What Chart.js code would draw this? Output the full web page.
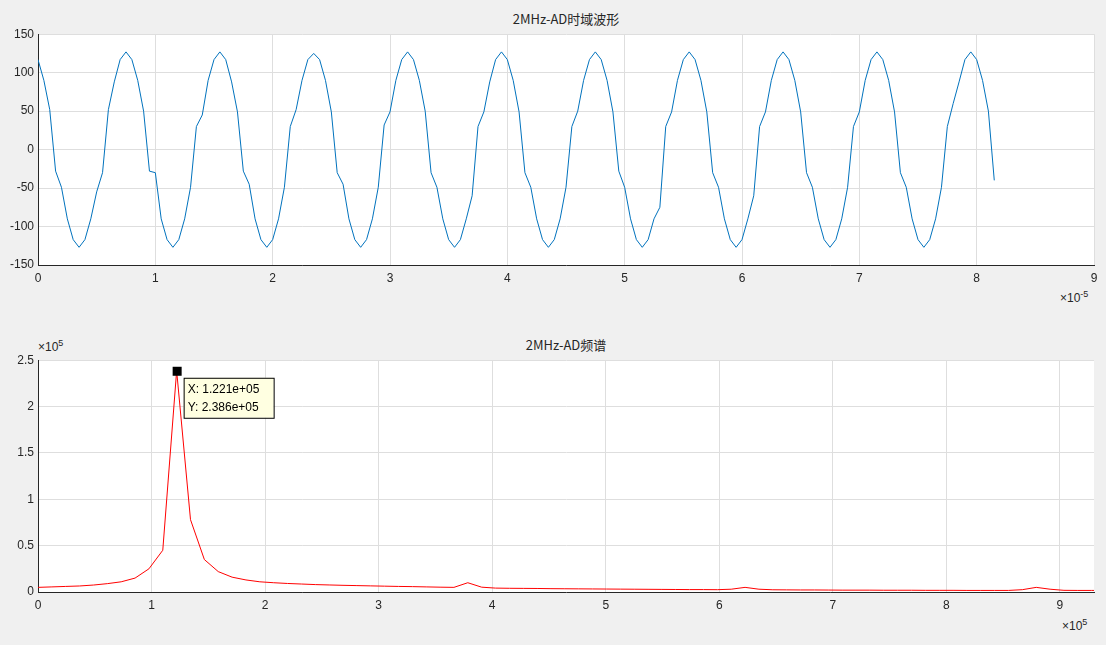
<!DOCTYPE html>
<html><head><meta charset="utf-8">
<script src="https://cdn.jsdelivr.net/npm/chart.js@4"></script>
<style>
body{margin:0;background:#f0f0f0;width:1106px;height:645px;position:relative;overflow:hidden;font-family:"Liberation Sans",Arial,sans-serif;color:#262626}
canvas{position:absolute}
.t{position:absolute;font-size:13px;white-space:nowrap}
</style></head><body>
<div class="t" style="left:0;width:1132px;text-align:center;top:9px;font-family:'Noto Sans CJK SC';font-size:13px">2MHz-AD时域波形</div>
<div class="t" style="left:0;width:1132px;text-align:center;top:335px;font-family:'Noto Sans CJK SC';font-size:13px">2MHz-AD频谱</div>
<div class="t" style="left:1060px;top:289px;font-size:12px">×10<sup style="font-size:9px">-5</sup></div>
<div class="t" style="left:1062px;top:617px;font-size:12px">×10<sup style="font-size:9px">5</sup></div>
<div class="t" style="left:38px;top:338px;font-size:12px">×10<sup style="font-size:9px">5</sup></div>
<div style="position:absolute;left:0;top:23px;width:1106px;height:266px"><canvas id="c1"></canvas></div>
<div style="position:absolute;left:0;top:349px;width:1106px;height:267px"><canvas id="c2"></canvas></div>
<script>
// time samples at 0.5 µs step (x in seconds)
const waveValues = [
117,90,52,-28,-49,-90,-117,-127,-117,-90,-55,-30,52,88,117,127,
117,90,50,-28,-30,-90,-117,-127,-117,-90,-49,30,45,90,117,127,
117,88,49,-28,-45,-90,-117,-127,-117,-90,-49,30,52,90,117,125,
117,90,49,-30,-45,-90,-117,-127,-117,-90,-49,32,49,90,117,127,
117,90,50,-30,-49,-90,-117,-127,-117,-90,-60,30,49,88,117,127,
117,90,49,-30,-49,-90,-117,-127,-117,-90,-49,30,50,90,117,127,
117,90,49,-28,-49,-90,-117,-127,-117,-90,-75,30,49,90,117,127,
117,90,49,-30,-49,-90,-117,-127,-117,-90,-60,30,49,90,117,127,
117,90,49,-30,-49,-90,-117,-127,-117,-90,-49,30,49,90,117,127,
117,90,49,-30,-49,-90,-117,-127,-117,-90,-49,30,60,88,117,127,
117,90,50,-40
];
const specValues = [5000,5500,6000,6500,7500,9000,11000,15000,25000,45000,238600,78000,35000,22000,16000,13000,11000,10000,9200,8600,8000,7600,7200,6900,6600,6300,6000,5800,5500,5200,5000,10000,5200,4200,4000,3900,3800,3600,3500,3400,3300,3200,3100,3000,2900,2800,2700,2600,2600,2500,3000,5000,3000,2400,2300,2200,2200,2100,2000,2000,2000,1900,1900,1900,1800,1800,1800,1700,1700,1700,1700,2500,5000,3000,1800,1700,1700,1700];
const waveStep = 0.5e-6, specStep = 12210;
const wave = waveValues.map((v,i)=>({x:i*waveStep,y:v}));
const spec = specValues.map((v,i)=>({x:i*specStep,y:v}));
const font={family:'"Liberation Sans",Arial,sans-serif',size:12};
const grid={color:'#dedede',drawTicks:false};
function yfit(s){s.width=38}
function xfit(s){s.height=24}
const bg={id:'bg',beforeDraw(c){const a=c.chartArea,ctx=c.ctx;ctx.save();ctx.fillStyle='#fff';ctx.fillRect(a.left,a.top,a.width,a.height);ctx.restore();}};
const base={animation:false,responsive:true,maintainAspectRatio:false,plugins:{legend:{display:false},tooltip:{enabled:false}},
  layout:{padding:{top:8,right:12,left:0,bottom:0}},elements:{point:{radius:0}}};
const setTicks=(arr)=>s=>{s.ticks=arr.map(v=>({value:v}))};
new Chart(document.getElementById('c1'),{type:'line',data:{datasets:[{data:wave,borderColor:'#0072bd',borderWidth:1,tension:0}]},
 options:{...base,scales:{
  x:{type:'linear',min:0,max:9e-5,afterFit:xfit,afterBuildTicks:setTicks([0,1,2,3,4,5,6,7,8,9].map(v=>v*1e-5)),grid,border:{color:'#262626'},ticks:{font,color:'#262626',padding:6,callback:v=>Math.round(v*1e5)}},
  y:{min:-150,max:150,afterFit:yfit,grid,border:{color:'#262626'},ticks:{font,color:'#262626',stepSize:50,padding:4}}}},plugins:[bg]});
const marker={id:'m',afterDraw(c){const ctx=c.ctx,xs=c.scales.x,ys=c.scales.y;const px=xs.getPixelForValue(spec[10].x),py=ys.getPixelForValue(spec[10].y);
 ctx.save();ctx.fillStyle='#000';ctx.fillRect(px-4,py-4,9,9);
 const bx=px+7,by=py+7;ctx.fillStyle='#ffffe1';ctx.fillRect(bx,by,90,40);ctx.strokeStyle='#000';ctx.lineWidth=1;ctx.strokeRect(bx+.5,by+.5,90,40);
 ctx.fillStyle='#000';ctx.font='12px "Liberation Sans",Arial';ctx.textBaseline='middle';ctx.fillText('X: 1.221e+05',bx+4,by+12);ctx.fillText('Y: 2.386e+05',bx+4,by+30);ctx.restore();}};
new Chart(document.getElementById('c2'),{type:'line',data:{datasets:[{data:spec,borderColor:'#ff0000',borderWidth:1,tension:0}]},
 options:{...base,scales:{
  x:{type:'linear',min:0,max:9.3e5,afterFit:xfit,afterBuildTicks:setTicks([0,1,2,3,4,5,6,7,8,9].map(v=>v*1e5)),grid,border:{color:'#262626'},ticks:{font,color:'#262626',padding:6,callback:v=>Math.round(v/1e5)}},
  y:{min:0,max:2.5e5,afterFit:yfit,grid,border:{color:'#262626'},ticks:{font,color:'#262626',stepSize:5e4,padding:4,callback:v=>String(v/1e5)}}}},plugins:[bg,marker]});
</script></body></html>
